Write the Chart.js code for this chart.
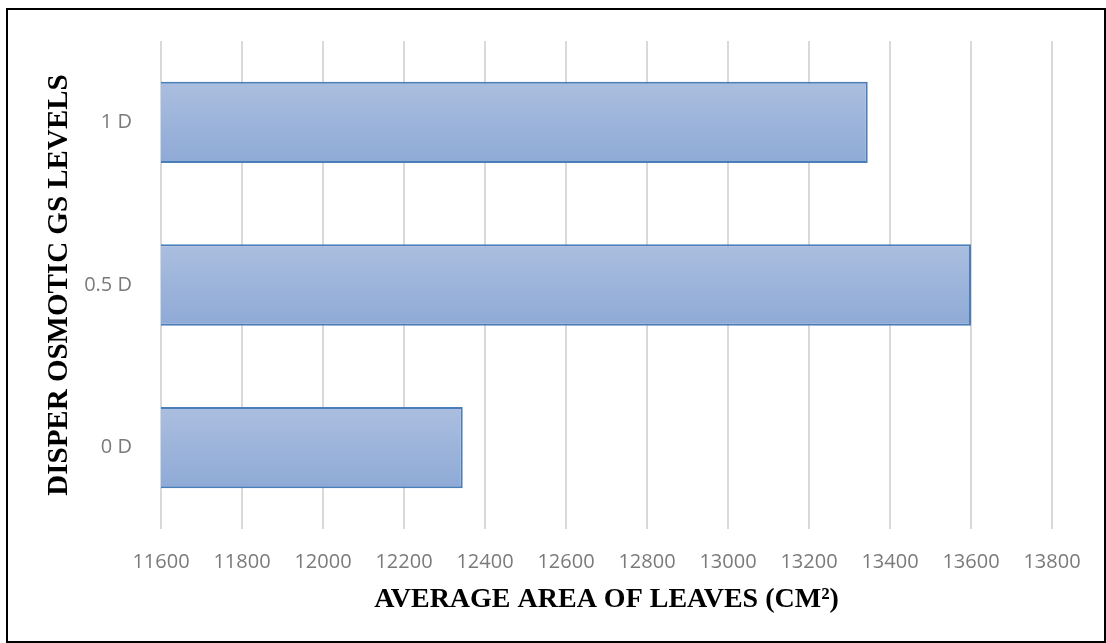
<!DOCTYPE html>
<html>
<head>
<meta charset="utf-8">
<script src="https://cdn.jsdelivr.net/npm/chart.js@4.4.0/dist/chart.umd.min.js"></script>
<style>
  html, body { margin: 0; padding: 0; background: #fff; overflow: hidden; }
  #frame { position: absolute; left: 6px; top: 8px; width: 1100px; height: 635px; border: 2px solid #000; box-sizing: border-box; }
  #wrap { position: absolute; left: 0; top: 0; width: 1106px; height: 643px; }
</style>
</head>
<body>
<div id="frame"></div>
<div id="wrap"><canvas id="chart" width="1106" height="643"></canvas></div>
<script>
const levels = ['1 D', '0.5 D', '0 D'];
const leafArea = [13345, 13600, 12345];
const xMin = 11600;
const xMax = 13800;
const xStep = 200;

// vertical gradient on each bar, like the office fill
function barFill(ctx) {
  const chart = ctx.chart;
  if (!chart.chartArea || ctx.dataIndex === undefined) return '#9db3da';
  const y = chart.scales.y;
  const mid = y.getPixelForValue(ctx.dataIndex);
  const half = (chart.chartArea.bottom - chart.chartArea.top) / levels.length * 0.5 / 2;
  const g = chart.ctx.createLinearGradient(0, mid - half, 0, mid + half);
  g.addColorStop(0, '#abbedf');
  g.addColorStop(1, '#8eaad6');
  return g;
}

const areaData = {
  labels: levels,
  datasets: [{
    label: 'Average area of leaves',
    data: leafArea,
    backgroundColor: barFill,
    borderColor: '#4a7ebb',
    borderWidth: 2,
    borderSkipped: false,
    barPercentage: 0.5,
    categoryPercentage: 1,
  }]
};

const areaConfig = {
  type: 'bar',
  data: areaData,
  options: {
    indexAxis: 'y',
    responsive: false,
    animation: false,
    layout: { padding: { left: 10, right: 54, top: 40, bottom: 10 } },
    plugins: { legend: { display: false }, tooltip: { enabled: false } },
    scales: {
      x: {
        min: xMin,
        max: xMax,
        afterFit: (s) => { s.height = 104; },
        ticks: {
          stepSize: xStep,
          padding: 21,
          color: '#7a7a7a',
          font: { family: 'Open Sans', size: 20 },
          callback: (v) => String(v),
        },
        grid: { color: '#d9d9d9', lineWidth: 2, drawTicks: false },
        border: { display: false },
        title: {
          display: true,
          text: 'AVERAGE AREA OF LEAVES (CM²)',
          color: '#000',
          font: { family: 'Liberation Serif', size: 28, weight: 'bold' },
          padding: { top: 0, bottom: 16 },
        },
      },
      y: {
        afterFit: (s) => { s.width = 151; },
        ticks: {
          padding: 29,
          color: '#7a7a7a',
          font: { family: 'Open Sans', size: 20 },
        },
        grid: { display: false, drawTicks: false },
        border: { display: false },
        title: {
          display: true,
          text: 'DISPER OSMOTIC GS LEVELS',
          color: '#000',
          font: { family: 'Liberation Serif', size: 29, weight: 'bold' },
          padding: { top: 32, bottom: 0 },
        },
      }
    }
  }
};

const areaChart = new Chart(document.getElementById('chart'), areaConfig);
</script>
</body>
</html>
